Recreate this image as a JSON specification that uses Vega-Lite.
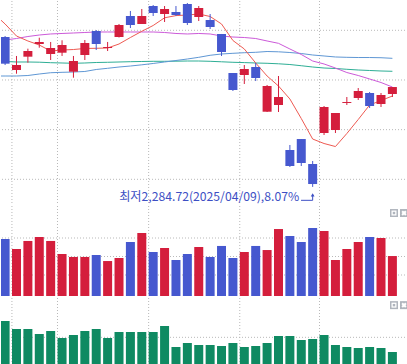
{
  "$schema": "https://vega.github.io/schema/vega-lite/v6.json",
  "padding": 0,
  "spacing": 0,
  "background": "white",
  "config": {"view": {"stroke": null}, "concat": {"spacing": 0}, "scale": {"continuousPadding": 0}},
  "datasets": {
    "ohlc": [
      {"i":0,"date":"2025-02-28","open":2586.5,"high":2588.5,"low":2530.1,"close":2532.8,"volume":789,"amount":15.33},
      {"i":1,"date":"2025-03-04","open":2520.1,"high":2548.3,"low":2512.6,"close":2530.1,"volume":681,"amount":12.72},
      {"i":2,"date":"2025-03-05","open":2546.9,"high":2563.0,"low":2534.8,"close":2558.3,"volume":768,"amount":12.72},
      {"i":3,"date":"2025-03-06","open":2572.4,"high":2585.1,"low":2565.0,"close":2576.5,"volume":811,"amount":11.09},
      {"i":4,"date":"2025-03-07","open":2552.3,"high":2576.5,"low":2540.2,"close":2564.4,"volume":768,"amount":12.07},
      {"i":5,"date":"2025-03-10","open":2554.9,"high":2579.9,"low":2548.3,"close":2570.4,"volume":627,"amount":9.78},
      {"i":6,"date":"2025-03-11","open":2516.7,"high":2548.3,"low":2504.6,"close":2538.2,"volume":595,"amount":10.76},
      {"i":7,"date":"2025-03-12","open":2550.3,"high":2580.5,"low":2540.2,"close":2574.4,"volume":595,"amount":12.07},
      {"i":8,"date":"2025-03-13","open":2598.6,"high":2600.6,"low":2560.3,"close":2572.4,"volume":616,"amount":12.72},
      {"i":9,"date":"2025-03-14","open":2564.4,"high":2576.5,"low":2558.3,"close":2566.4,"volume":551,"amount":9.78},
      {"i":10,"date":"2025-03-17","open":2586.5,"high":2612.7,"low":2585.5,"close":2610.7,"volume":584,"amount":11.74},
      {"i":11,"date":"2025-03-18","open":2628.8,"high":2638.9,"low":2604.6,"close":2610.7,"volume":757,"amount":11.74},
      {"i":12,"date":"2025-03-19","open":2612.7,"high":2642.9,"low":2612.7,"close":2628.8,"volume":854,"amount":11.74},
      {"i":13,"date":"2025-03-20","open":2648.9,"high":2650.9,"low":2628.8,"close":2634.8,"volume":649,"amount":11.74},
      {"i":14,"date":"2025-03-21","open":2632.8,"high":2648.9,"low":2616.7,"close":2642.9,"volume":692,"amount":13.70},
      {"i":15,"date":"2025-03-24","open":2636.9,"high":2648.9,"low":2628.8,"close":2630.8,"volume":562,"amount":6.85},
      {"i":16,"date":"2025-03-25","open":2653.0,"high":2655.0,"low":2610.7,"close":2614.7,"volume":627,"amount":8.15},
      {"i":17,"date":"2025-03-26","open":2626.8,"high":2648.9,"low":2618.7,"close":2644.9,"volume":703,"amount":7.50},
      {"i":18,"date":"2025-03-27","open":2620.7,"high":2632.8,"low":2602.6,"close":2606.7,"volume":595,"amount":7.50},
      {"i":19,"date":"2025-03-28","open":2592.6,"high":2592.6,"low":2548.3,"close":2556.3,"volume":714,"amount":7.17},
      {"i":20,"date":"2025-03-31","open":2514.0,"high":2514.0,"low":2477.8,"close":2479.8,"volume":584,"amount":8.15},
      {"i":21,"date":"2025-04-01","open":2510.0,"high":2530.1,"low":2491.9,"close":2522.1,"volume":649,"amount":6.85},
      {"i":22,"date":"2025-04-02","open":2526.1,"high":2534.2,"low":2497.9,"close":2504.0,"volume":714,"amount":7.17},
      {"i":23,"date":"2025-04-03","open":2436.1,"high":2489.9,"low":2435.5,"close":2487.9,"volume":670,"amount":8.15},
      {"i":24,"date":"2025-04-04","open":2449.6,"high":2508.0,"low":2435.5,"close":2465.7,"volume":897,"amount":10.43},
      {"i":25,"date":"2025-04-07","open":2359.0,"high":2369.1,"low":2324.8,"close":2326.8,"volume":822,"amount":10.43},
      {"i":26,"date":"2025-04-08","open":2381.1,"high":2381.1,"low":2326.8,"close":2332.8,"volume":757,"amount":9.13},
      {"i":27,"date":"2025-04-09","open":2330.8,"high":2336.9,"low":2284.72,"close":2290.5,"volume":908,"amount":9.46},
      {"i":28,"date":"2025-04-10","open":2393.2,"high":2447.6,"low":2389.2,"close":2445.6,"volume":876,"amount":10.76},
      {"i":29,"date":"2025-04-11","open":2399.3,"high":2433.5,"low":2393.2,"close":2433.5,"volume":562,"amount":7.50},
      {"i":30,"date":"2025-04-14","open":2453.6,"high":2465.7,"low":2449.6,"close":2455.6,"volume":681,"amount":6.85},
      {"i":31,"date":"2025-04-15","open":2463.7,"high":2483.8,"low":2459.7,"close":2477.8,"volume":757,"amount":6.52},
      {"i":32,"date":"2025-04-16","open":2473.8,"high":2475.8,"low":2443.6,"close":2447.6,"volume":811,"amount":6.85},
      {"i":33,"date":"2025-04-17","open":2451.6,"high":2473.8,"low":2445.6,"close":2469.7,"volume":800,"amount":6.52},
      {"i":34,"date":"2025-04-18","open":2471.8,"high":2485.8,"low":2465.7,"close":2485.8,"volume":605,"amount":5.22}
    ],
    "ma": [
      {"i":-1,"ma5":2633.8,"ma20":2578.5,"ma60":2508.0,"ma120":2537.6},
      {"i":0,"ma5":2612.7,"ma20":2580.5,"ma60":2508.0,"ma120":2537.2},
      {"i":1,"ma5":2588.5,"ma20":2583.5,"ma60":2508.0,"ma120":2536.2},
      {"i":2,"ma5":2578.5,"ma20":2587.5,"ma60":2509.0,"ma120":2536.2},
      {"i":3,"ma5":2570.4,"ma20":2590.5,"ma60":2512.0,"ma120":2535.8},
      {"i":4,"ma5":2558.3,"ma20":2592.6,"ma60":2514.6,"ma120":2534.8},
      {"i":5,"ma5":2560.3,"ma20":2593.6,"ma60":2515.4,"ma120":2534.2},
      {"i":6,"ma5":2561.3,"ma20":2594.6,"ma60":2516.0,"ma120":2533.6},
      {"i":7,"ma5":2563.4,"ma20":2595.6,"ma60":2517.1,"ma120":2534.2},
      {"i":8,"ma5":2563.8,"ma20":2596.6,"ma60":2521.1,"ma120":2535.2},
      {"i":9,"ma5":2564.4,"ma20":2596.6,"ma60":2523.5,"ma120":2535.6},
      {"i":10,"ma5":2572.4,"ma20":2596.6,"ma60":2526.1,"ma120":2536.2},
      {"i":11,"ma5":2585.5,"ma20":2596.6,"ma60":2528.1,"ma120":2536.8},
      {"i":12,"ma5":2598.0,"ma20":2596.6,"ma60":2530.5,"ma120":2537.2},
      {"i":13,"ma5":2609.7,"ma20":2596.6,"ma60":2533.2,"ma120":2537.6},
      {"i":14,"ma5":2625.2,"ma20":2595.6,"ma60":2536.2,"ma120":2537.6},
      {"i":15,"ma5":2629.6,"ma20":2593.6,"ma60":2539.2,"ma120":2537.8},
      {"i":16,"ma5":2630.8,"ma20":2592.6,"ma60":2542.2,"ma120":2538.2},
      {"i":17,"ma5":2632.8,"ma20":2593.6,"ma60":2545.6,"ma120":2538.2},
      {"i":18,"ma5":2627.8,"ma20":2592.6,"ma60":2549.7,"ma120":2537.6},
      {"i":19,"ma5":2612.7,"ma20":2588.5,"ma60":2552.3,"ma120":2536.6},
      {"i":20,"ma5":2579.5,"ma20":2586.5,"ma60":2553.7,"ma120":2535.6},
      {"i":21,"ma5":2562.4,"ma20":2585.5,"ma60":2554.9,"ma120":2535.0},
      {"i":22,"ma5":2534.2,"ma20":2583.5,"ma60":2555.7,"ma120":2534.2},
      {"i":23,"ma5":2508.0,"ma20":2578.5,"ma60":2557.3,"ma120":2533.6},
      {"i":24,"ma5":2487.9,"ma20":2573.8,"ma60":2556.7,"ma120":2532.6},
      {"i":25,"ma5":2461.7,"ma20":2562.4,"ma60":2555.3,"ma120":2531.1},
      {"i":26,"ma5":2422.4,"ma20":2551.3,"ma60":2553.3,"ma120":2528.7},
      {"i":27,"ma5":2381.1,"ma20":2538.2,"ma60":2550.3,"ma120":2526.1},
      {"i":28,"ma5":2372.1,"ma20":2532.2,"ma60":2548.3,"ma120":2524.1},
      {"i":29,"ma5":2366.0,"ma20":2524.1,"ma60":2546.3,"ma120":2523.1},
      {"i":30,"ma5":2392.2,"ma20":2515.0,"ma60":2545.6,"ma120":2521.5},
      {"i":31,"ma5":2420.4,"ma20":2509.0,"ma60":2545.2,"ma120":2520.1},
      {"i":32,"ma5":2449.6,"ma20":2502.0,"ma60":2545.2,"ma120":2519.1},
      {"i":33,"ma5":2458.7,"ma20":2494.9,"ma60":2544.8,"ma120":2518.1},
      {"i":34,"ma5":2467.7,"ma20":2485.8,"ma60":2543.6,"ma120":2517.5}
    ],
    "vgrid": [{"g":0.6},{"g":4.6},{"g":12.6},{"g":20.6},{"g":27.6}],
    "note": [{"i":27,"low":2284.72,"label":"최저2,284.72(2025/04/09),8.07%"}],
    "arrow": [
      {"k":0,"i":25.98,"p":2257.7},
      {"k":1,"i":27,"p":2257.7},
      {"k":2,"i":27,"p":2269.0}
    ],
    "buttons": [{"i":34.14,"kind":"max"},{"i":35.02,"kind":"close"}]
  },
  "vconcat": [
    {
      "width": 407,
      "height": 203,
      "layer": [
        {
          "data": {"values": [{"p":2300},{"p":2400},{"p":2500},{"p":2600}]},
          "mark": {"type":"rule","color":"#b9b9b9","strokeDash":[1,2],"strokeWidth":1},
          "encoding": {"y": {"field":"p","type":"quantitative","scale":{"domain":[2250.3,2659],"nice":false,"zero":false},"axis":null}}
        },
        {
          "data": {"name":"vgrid"},
          "mark": {"type":"rule","color":"#b9b9b9","strokeDash":[1,2],"strokeWidth":1},
          "encoding": {"x": {"field":"g","type":"quantitative","scale":{"domain":[-0.36,35.37],"nice":false,"zero":false},"axis":null}}
        },
        {
          "data": {"name":"ma"},
          "mark": {"type":"line","color":"#2eae95","strokeWidth":1,"clip":true},
          "encoding": {
            "x": {"field":"i","type":"quantitative","scale":{"domain":[-0.36,35.37],"nice":false,"zero":false},"axis":null},
            "y": {"field":"ma120","type":"quantitative","scale":{"domain":[2250.3,2659],"nice":false,"zero":false},"axis":null}
          }
        },
        {
          "data": {"name":"ma"},
          "mark": {"type":"line","color":"#5f97d4","strokeWidth":1,"clip":true},
          "encoding": {
            "x": {"field":"i","type":"quantitative","scale":{"domain":[-0.36,35.37],"nice":false,"zero":false},"axis":null},
            "y": {"field":"ma60","type":"quantitative","scale":{"domain":[2250.3,2659],"nice":false,"zero":false},"axis":null}
          }
        },
        {
          "data": {"name":"ma"},
          "mark": {"type":"line","color":"#cc5ad9","strokeWidth":1,"clip":true},
          "encoding": {
            "x": {"field":"i","type":"quantitative","scale":{"domain":[-0.36,35.37],"nice":false,"zero":false},"axis":null},
            "y": {"field":"ma20","type":"quantitative","scale":{"domain":[2250.3,2659],"nice":false,"zero":false},"axis":null}
          }
        },
        {
          "data": {"name":"ma"},
          "mark": {"type":"line","color":"#ee5a52","strokeWidth":1,"clip":true},
          "encoding": {
            "x": {"field":"i","type":"quantitative","scale":{"domain":[-0.36,35.37],"nice":false,"zero":false},"axis":null},
            "y": {"field":"ma5","type":"quantitative","scale":{"domain":[2250.3,2659],"nice":false,"zero":false},"axis":null}
          }
        },
        {
          "data": {"name":"ohlc"},
          "mark": {"type":"rule","strokeWidth":1},
          "encoding": {
            "x": {"field":"i","type":"quantitative","scale":{"domain":[-0.36,35.37],"nice":false,"zero":false},"axis":null},
            "y": {"field":"low","type":"quantitative","scale":{"domain":[2250.3,2659],"nice":false,"zero":false},"axis":null},
            "y2": {"field":"high"},
            "color": {"condition": {"test":"datum.close >= datum.open","value":"#d41e3c"},"value":"#4658cf"}
          }
        },
        {
          "data": {"name":"ohlc"},
          "mark": {"type":"bar","size":9,"clip":true},
          "encoding": {
            "x": {"field":"i","type":"quantitative","scale":{"domain":[-0.36,35.37],"nice":false,"zero":false},"axis":null},
            "y": {"field":"open","type":"quantitative","scale":{"domain":[2250.3,2659],"nice":false,"zero":false},"axis":null},
            "y2": {"field":"close"},
            "color": {"condition": {"test":"datum.close >= datum.open","value":"#d41e3c"},"value":"#4658cf"}
          }
        },
        {
          "data": {"name":"arrow"},
          "mark": {"type":"line","color":"#3d4fc4","strokeWidth":1},
          "encoding": {
            "x": {"field":"i","type":"quantitative","scale":{"domain":[-0.36,35.37],"nice":false,"zero":false},"axis":null},
            "y": {"field":"p","type":"quantitative","scale":{"domain":[2250.3,2659],"nice":false,"zero":false},"axis":null},
            "order": {"field":"k"}
          }
        },
        {
          "data": {"name":"note"},
          "mark": {"type":"point","shape":"triangle-up","filled":true,"size":14,"color":"#3d4fc4","opacity":1,"yOffset":8},
          "encoding": {
            "x": {"field":"i","type":"quantitative","scale":{"domain":[-0.36,35.37],"nice":false,"zero":false},"axis":null},
            "y": {"field":"low","type":"quantitative","scale":{"domain":[2250.3,2659],"nice":false,"zero":false},"axis":null}
          }
        },
        {
          "data": {"name":"note"},
          "mark": {"type":"text","font":"Noto Sans CJK KR","fontSize":12.2,"color":"#3d4fc4","align":"right","baseline":"alphabetic","dx":-13.5,"dy":14},
          "encoding": {
            "x": {"field":"i","type":"quantitative","scale":{"domain":[-0.36,35.37],"nice":false,"zero":false},"axis":null},
            "y": {"field":"low","type":"quantitative","scale":{"domain":[2250.3,2659],"nice":false,"zero":false},"axis":null},
            "text": {"field":"label"}
          }
        }
      ]
    },
    {
      "width": 407,
      "height": 90,
      "layer": [
        {
          "data": {"values": [{"v":400},{"v":600},{"v":800}]},
          "mark": {"type":"rule","color":"#b9b9b9","strokeDash":[1,2],"strokeWidth":1},
          "encoding": {"y": {"field":"v","type":"quantitative","scale":{"domain":[173,1146],"nice":false,"zero":false},"axis":null}}
        },
        {
          "data": {"name":"vgrid"},
          "mark": {"type":"rule","color":"#b9b9b9","strokeDash":[1,2],"strokeWidth":1},
          "encoding": {"x": {"field":"g","type":"quantitative","scale":{"domain":[-0.36,35.37],"nice":false,"zero":false},"axis":null}}
        },
        {
          "data": {"name":"ohlc"},
          "mark": {"type":"bar","size":9,"clip":true},
          "encoding": {
            "x": {"field":"i","type":"quantitative","scale":{"domain":[-0.36,35.37],"nice":false,"zero":false},"axis":null},
            "y": {"field":"volume","type":"quantitative","scale":{"domain":[173,1146],"nice":false,"zero":false},"axis":null},
            "y2": {"datum":173},
            "color": {"condition": {"test":"datum.close >= datum.open","value":"#d41e3c"},"value":"#4658cf"}
          }
        },
        {
          "mark": {"type":"rule","color":"#a9aeb6","strokeWidth":1.5,"yOffset":0.75},
          "encoding": {"y": {"datum":1146,"type":"quantitative","scale":{"domain":[173,1146],"nice":false,"zero":false},"axis":null}}
        },
        {
          "data": {"name":"buttons"},
          "mark": {"type":"point","shape":"square","filled":true,"size":64,"color":"#b0b5bd","opacity":1},
          "encoding": {
            "x": {"field":"i","type":"quantitative","scale":{"domain":[-0.36,35.37],"nice":false,"zero":false},"axis":null},
            "y": {"datum":1070,"type":"quantitative","scale":{"domain":[173,1146],"nice":false,"zero":false},"axis":null}
          }
        },
        {
          "data": {"name":"buttons"},
          "transform": [{"filter":"datum.kind == 'max'"}],
          "mark": {"type":"point","shape":"square","filled":true,"size":25,"color":"#ffffff","opacity":1},
          "encoding": {
            "x": {"field":"i","type":"quantitative","scale":{"domain":[-0.36,35.37],"nice":false,"zero":false},"axis":null},
            "y": {"datum":1070,"type":"quantitative","scale":{"domain":[173,1146],"nice":false,"zero":false},"axis":null}
          }
        },
        {
          "data": {"name":"buttons"},
          "transform": [{"filter":"datum.kind == 'max'"}],
          "mark": {"type":"point","shape":"square","filled":true,"size":6,"color":"#b0b5bd","opacity":1},
          "encoding": {
            "x": {"field":"i","type":"quantitative","scale":{"domain":[-0.36,35.37],"nice":false,"zero":false},"axis":null},
            "y": {"datum":1070,"type":"quantitative","scale":{"domain":[173,1146],"nice":false,"zero":false},"axis":null}
          }
        },
        {
          "data": {"name":"buttons"},
          "transform": [{"filter":"datum.kind == 'close'"}],
          "mark": {"type":"point","shape":"cross","angle":45,"filled":true,"size":28,"color":"#ffffff","opacity":1},
          "encoding": {
            "x": {"field":"i","type":"quantitative","scale":{"domain":[-0.36,35.37],"nice":false,"zero":false},"axis":null},
            "y": {"datum":1070,"type":"quantitative","scale":{"domain":[173,1146],"nice":false,"zero":false},"axis":null}
          }
        }
      ]
    },
    {
      "width": 407,
      "height": 70,
      "layer": [
        {
          "data": {"values": [{"a":10}]},
          "mark": {"type":"rule","color":"#b9b9b9","strokeDash":[1,2],"strokeWidth":1},
          "encoding": {"y": {"field":"a","type":"quantitative","scale":{"domain":[0,22.83],"nice":false,"zero":false},"axis":null}}
        },
        {
          "data": {"name":"vgrid"},
          "mark": {"type":"rule","color":"#b9b9b9","strokeDash":[1,2],"strokeWidth":1},
          "encoding": {"x": {"field":"g","type":"quantitative","scale":{"domain":[-0.36,35.37],"nice":false,"zero":false},"axis":null}}
        },
        {
          "data": {"name":"ohlc"},
          "mark": {"type":"bar","size":9,"clip":true,"color":"#0f8a62"},
          "encoding": {
            "x": {"field":"i","type":"quantitative","scale":{"domain":[-0.36,35.37],"nice":false,"zero":false},"axis":null},
            "y": {"field":"amount","type":"quantitative","scale":{"domain":[0,22.83],"nice":false,"zero":false},"axis":null},
            "y2": {"datum":0}
          }
        },
        {
          "mark": {"type":"rule","color":"#a9aeb6","strokeWidth":1.5,"yOffset":0.75},
          "encoding": {"y": {"datum":22.83,"type":"quantitative","scale":{"domain":[0,22.83],"nice":false,"zero":false},"axis":null}}
        },
        {
          "mark": {"type":"rule","color":"#a9aeb6","strokeWidth":1.5,"yOffset":-0.25},
          "encoding": {"y": {"datum":0,"type":"quantitative","scale":{"domain":[0,22.83],"nice":false,"zero":false},"axis":null}}
        },
        {
          "data": {"name":"buttons"},
          "mark": {"type":"point","shape":"square","filled":true,"size":64,"color":"#b0b5bd","opacity":1},
          "encoding": {
            "x": {"field":"i","type":"quantitative","scale":{"domain":[-0.36,35.37],"nice":false,"zero":false},"axis":null},
            "y": {"datum":20.5,"type":"quantitative","scale":{"domain":[0,22.83],"nice":false,"zero":false},"axis":null}
          }
        },
        {
          "data": {"name":"buttons"},
          "transform": [{"filter":"datum.kind == 'max'"}],
          "mark": {"type":"point","shape":"square","filled":true,"size":25,"color":"#ffffff","opacity":1},
          "encoding": {
            "x": {"field":"i","type":"quantitative","scale":{"domain":[-0.36,35.37],"nice":false,"zero":false},"axis":null},
            "y": {"datum":20.5,"type":"quantitative","scale":{"domain":[0,22.83],"nice":false,"zero":false},"axis":null}
          }
        },
        {
          "data": {"name":"buttons"},
          "transform": [{"filter":"datum.kind == 'max'"}],
          "mark": {"type":"point","shape":"square","filled":true,"size":6,"color":"#b0b5bd","opacity":1},
          "encoding": {
            "x": {"field":"i","type":"quantitative","scale":{"domain":[-0.36,35.37],"nice":false,"zero":false},"axis":null},
            "y": {"datum":20.5,"type":"quantitative","scale":{"domain":[0,22.83],"nice":false,"zero":false},"axis":null}
          }
        },
        {
          "data": {"name":"buttons"},
          "transform": [{"filter":"datum.kind == 'close'"}],
          "mark": {"type":"point","shape":"cross","angle":45,"filled":true,"size":28,"color":"#ffffff","opacity":1},
          "encoding": {
            "x": {"field":"i","type":"quantitative","scale":{"domain":[-0.36,35.37],"nice":false,"zero":false},"axis":null},
            "y": {"datum":20.5,"type":"quantitative","scale":{"domain":[0,22.83],"nice":false,"zero":false},"axis":null}
          }
        }
      ]
    }
  ]
}
